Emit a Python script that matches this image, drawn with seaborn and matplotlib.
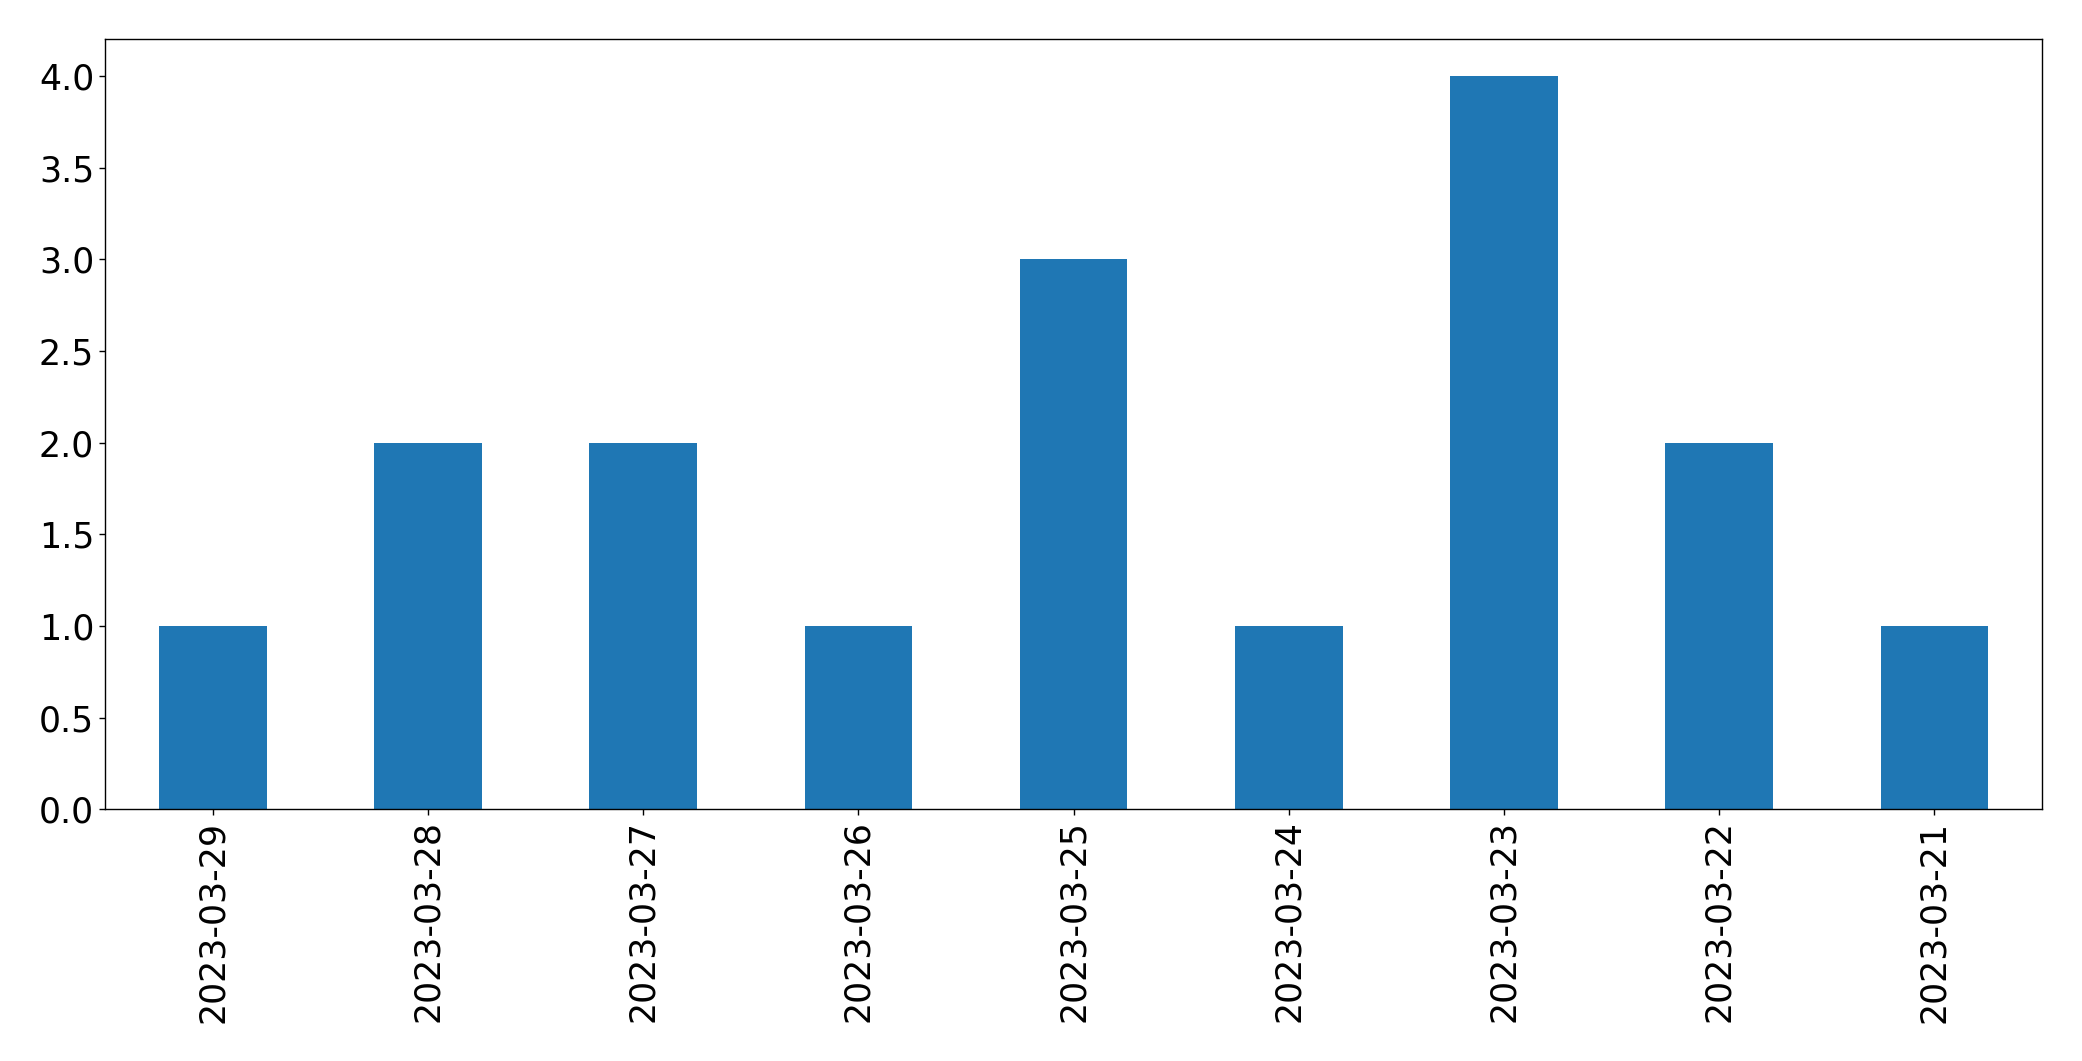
import matplotlib
matplotlib.use("Agg")
import matplotlib.pyplot as plt
import seaborn as sns
import pandas as pd

dates = ["2023-03-29", "2023-03-28", "2023-03-27", "2023-03-26", "2023-03-25",
         "2023-03-24", "2023-03-23", "2023-03-22", "2023-03-21"]
counts = [1, 2, 2, 1, 3, 1, 4, 2, 1]

df = pd.DataFrame({"date": dates, "count": counts})

fig = plt.figure(figsize=(20.82, 10.61), dpi=100)
ax = fig.add_axes([105.3 / 2082, (1061 - 809.3) / 1061,
                   (2042 - 105.3) / 2082, (809.3 - 39.3) / 1061])

sns.barplot(data=df, x="date", y="count", order=dates, color="#1f77b4",
            saturation=1, width=0.5, ax=ax, errorbar=None)

ax.set_xlim(-0.5, len(dates) - 0.5)
ax.set_ylim(0, 4.2)
ax.set_yticks([0, 0.5, 1, 1.5, 2, 2.5, 3, 3.5, 4])
ax.set_yticklabels(["0.0", "0.5", "1.0", "1.5", "2.0", "2.5", "3.0", "3.5", "4.0"])
ax.set_xlabel("")
ax.set_ylabel("")
ax.tick_params(axis="both", labelsize=25, length=4.5, width=1.0)
ax.tick_params(axis="x", labelrotation=90)
for s in ax.spines.values():
    s.set_visible(True)
    s.set_color("black")
    s.set_linewidth(1.0)

fig.savefig("out.png", dpi=100)
